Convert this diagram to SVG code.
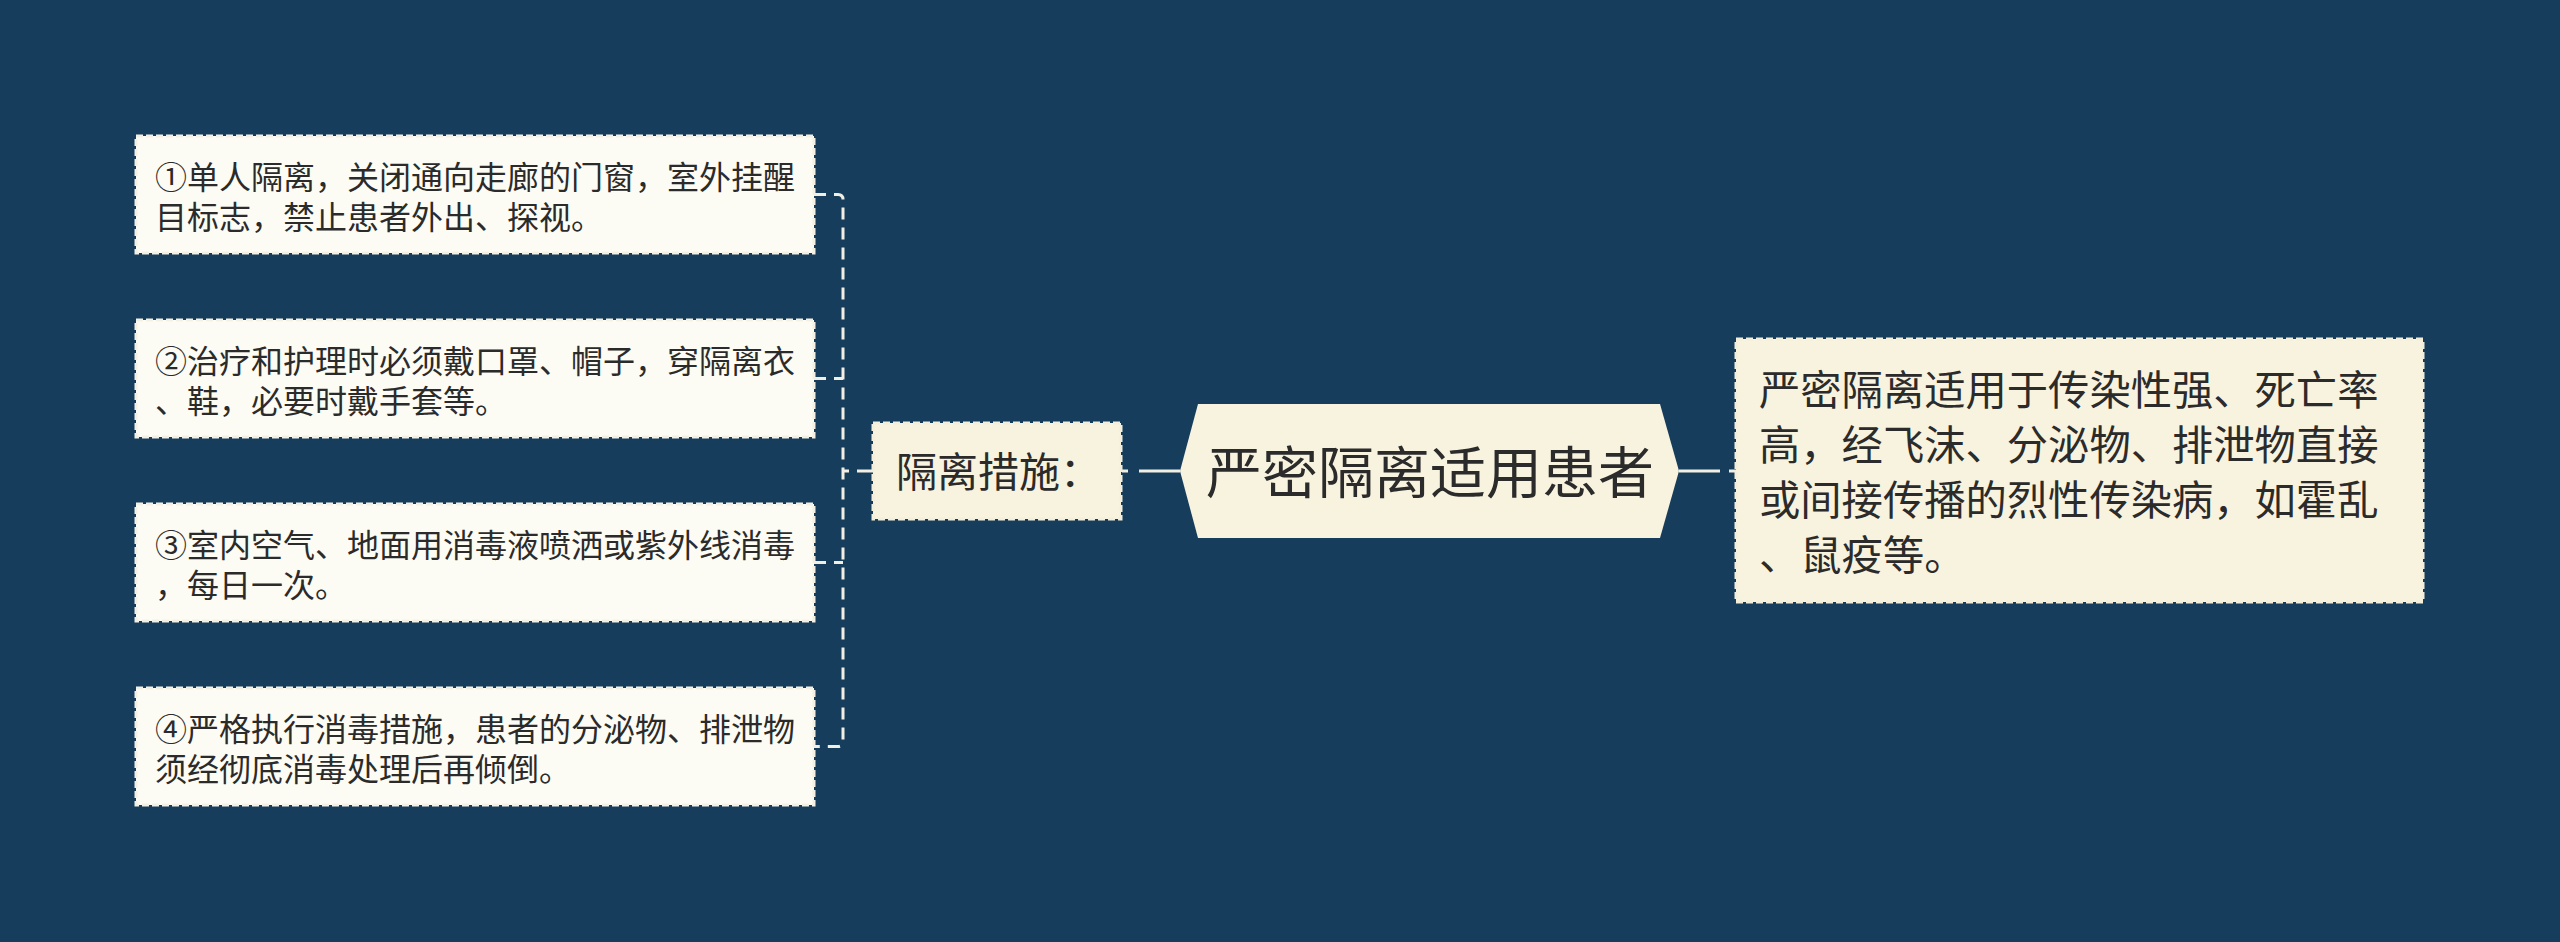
<svg xmlns="http://www.w3.org/2000/svg" width="2560" height="942" viewBox="0 0 2560 942">
<style>
.leaf{fill:#fdfcf4;stroke:#f4f1e4;stroke-width:3;stroke-dasharray:7 3}
.cream{fill:#f8f3df;stroke:#f4efdb;stroke-width:3;stroke-dasharray:7 3}
.t{font-family:"Noto Sans CJK SC","Noto Sans",sans-serif;fill:#2b2b2b}
.t32{font-size:32px}
.t41{font-size:41px}
.t42{font-size:41.3px}
.t56{font-size:56px}
.conn{fill:none;stroke:#f2efe2;stroke-width:3}
.dash{stroke-dasharray:12 8}
</style>
<rect x="0" y="0" width="2560" height="942" fill="#173d5d"/>
<g id="connectors">
<path class="conn dash" d="M814 194.5 H838 Q843 194.5 843 199.5 V741.5 Q843 746.5 838 746.5 H814"/>
<path class="conn dash" d="M814 378.5 H843"/>
<path class="conn dash" d="M814 562.5 H843"/>
<path class="conn" d="M843 471 H849 M857 471 H873"/>
<path class="conn" d="M1180 471 H1139 M1128 471 H1122"/>
<path class="conn" d="M1679 471 H1720 M1729 471 H1737"/>
</g>
<g id="node-center">
<polygon points="1198,404 1660,404 1679,471 1660,538 1198,538 1180,471" fill="#f8f3df"/>
<text class="t t56" x="1430" y="493" text-anchor="middle">严密隔离适用患者</text>
</g>
<g id="node-measures">
<rect class="cream" x="873" y="423" width="248" height="96"/>
<text class="t t41" x="896" y="487">隔离措施：</text>
</g>
<g id="node-desc">
<rect class="cream" x="1736" y="339" width="687" height="263"/>
<text class="t t42" x="1759" y="405">严密隔离适用于传染性强、死亡率</text>
<text class="t t42" x="1759" y="460">高，经飞沫、分泌物、排泄物直接</text>
<text class="t t42" x="1759" y="515">或间接传播的烈性传染病，如霍乱</text>
<text class="t t42" x="1759" y="570">、鼠疫等。</text>
</g>
<g id="leaf-1">
<rect class="leaf" x="136" y="136" width="678" height="117"/>
<text class="t t32" x="155" y="189">①单人隔离，关闭通向走廊的门窗，室外挂醒</text>
<text class="t t32" x="155" y="229">目标志，禁止患者外出、探视。</text>
</g>
<g id="leaf-2">
<rect class="leaf" x="136" y="320" width="678" height="117"/>
<text class="t t32" x="155" y="373">②治疗和护理时必须戴口罩、帽子，穿隔离衣</text>
<text class="t t32" x="155" y="413">、鞋，必要时戴手套等。</text>
</g>
<g id="leaf-3">
<rect class="leaf" x="136" y="504" width="678" height="117"/>
<text class="t t32" x="155" y="557">③室内空气、地面用消毒液喷洒或紫外线消毒</text>
<text class="t t32" x="155" y="597">，每日一次。</text>
</g>
<g id="leaf-4">
<rect class="leaf" x="136" y="688" width="678" height="117"/>
<text class="t t32" x="155" y="741">④严格执行消毒措施，患者的分泌物、排泄物</text>
<text class="t t32" x="155" y="781">须经彻底消毒处理后再倾倒。</text>
</g>
</svg>
